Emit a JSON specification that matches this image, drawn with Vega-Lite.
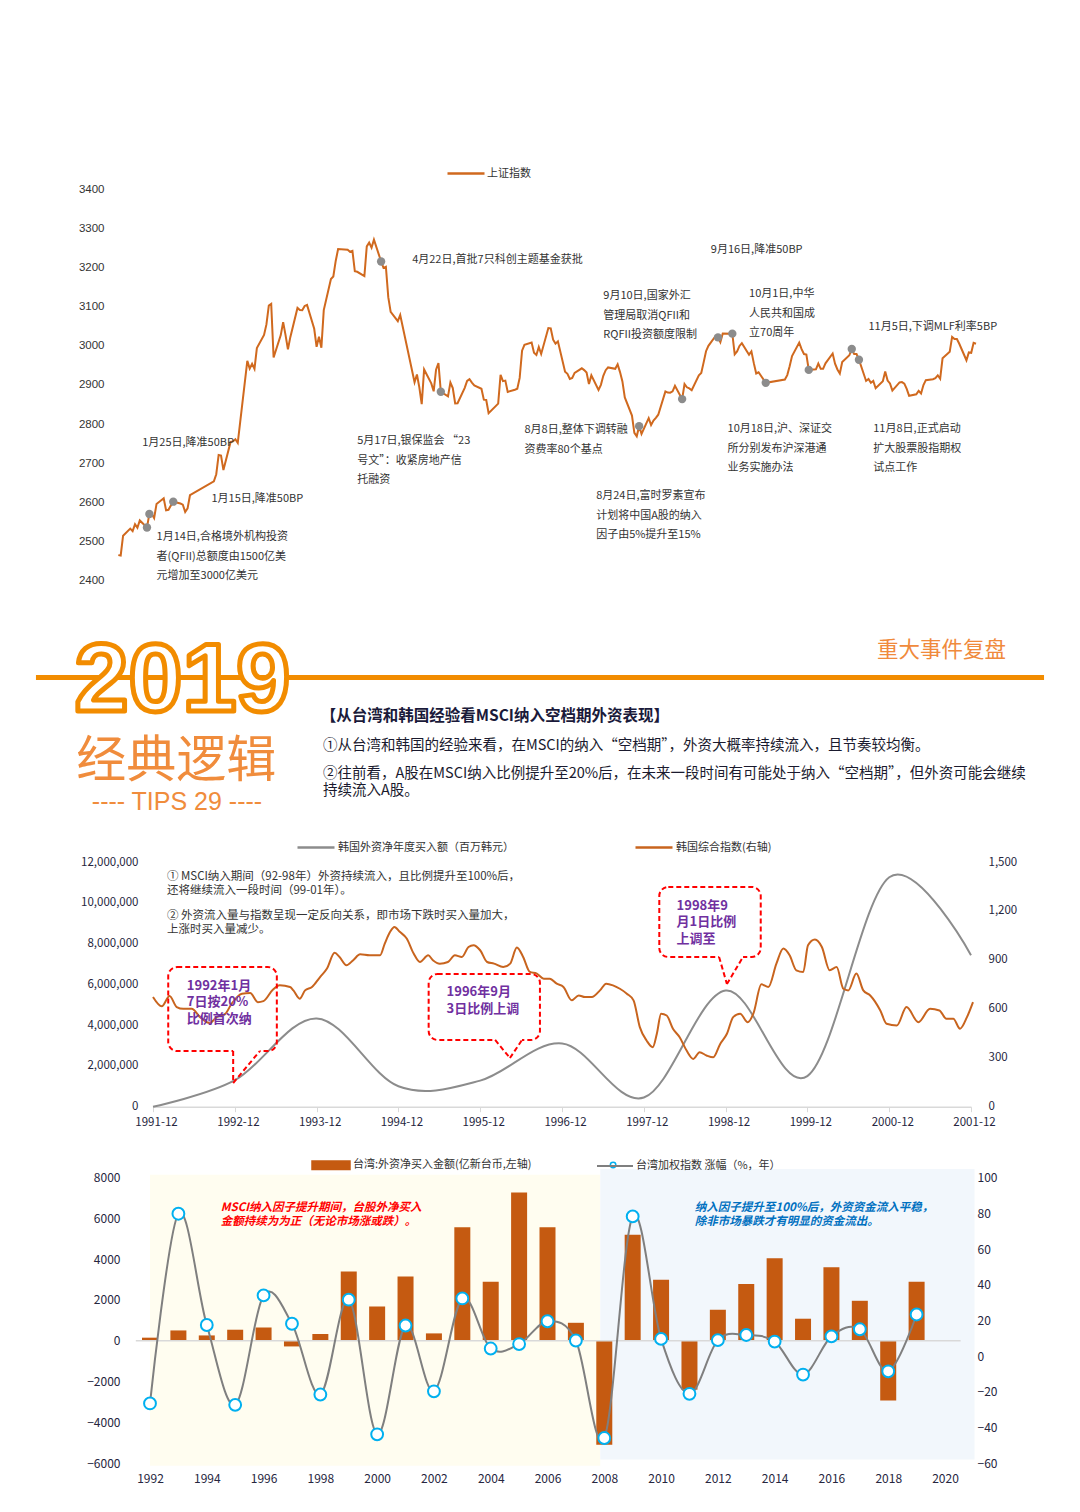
{
  "$schema": "https://vega.github.io/schema/vega-lite/v6.json",
  "width": 1080,
  "height": 1512,
  "padding": 0,
  "autosize": {"type": "none"},
  "background": "#ffffff",
  "config": {
    "view": {"stroke": null},
    "font": "Noto Sans CJK SC",
    "axis": {"grid": false, "domain": false, "ticks": false, "labelFont": "Noto Sans CJK SC", "labelColor": "#262640", "labelFontSize": 11.5, "labelFlush": false, "labelOverlap": false},
    "legend": {"labelFont": "Noto Sans CJK SC", "labelFontSize": 11, "labelColor": "#333333", "padding": 0, "labelLimit": 600, "labelOffset": 2},
    "text": {"font": "Noto Sans CJK SC"}
  },
  "datasets": {
    "sse": [
      {"date":"2019-01-02","close":2465.29},{"date":"2019-01-03","close":2464.36},{"date":"2019-01-04","close":2514.87},{"date":"2019-01-07","close":2533.09},{"date":"2019-01-08","close":2526.46},{"date":"2019-01-09","close":2544.34},{"date":"2019-01-10","close":2535.10},{"date":"2019-01-11","close":2553.83},{"date":"2019-01-14","close":2535.77},{"date":"2019-01-15","close":2570.42},{"date":"2019-01-16","close":2570.34},{"date":"2019-01-17","close":2559.64},{"date":"2019-01-18","close":2596.01},{"date":"2019-01-21","close":2610.51},{"date":"2019-01-22","close":2579.70},{"date":"2019-01-23","close":2581.00},{"date":"2019-01-24","close":2591.69},{"date":"2019-01-25","close":2601.72},{"date":"2019-01-28","close":2596.98},{"date":"2019-01-29","close":2594.25},{"date":"2019-01-30","close":2575.58},{"date":"2019-01-31","close":2584.57},
      {"date":"2019-02-01","close":2618.23},{"date":"2019-02-11","close":2653.90},{"date":"2019-02-12","close":2671.89},{"date":"2019-02-13","close":2721.07},{"date":"2019-02-14","close":2719.70},{"date":"2019-02-15","close":2682.39},{"date":"2019-02-18","close":2754.36},{"date":"2019-02-19","close":2755.65},{"date":"2019-02-20","close":2761.22},{"date":"2019-02-21","close":2751.80},{"date":"2019-02-22","close":2804.23},{"date":"2019-02-25","close":2961.28},{"date":"2019-02-26","close":2941.52},{"date":"2019-02-27","close":2953.82},{"date":"2019-02-28","close":2940.95},
      {"date":"2019-03-01","close":2994.01},{"date":"2019-03-04","close":3027.58},{"date":"2019-03-05","close":3054.25},{"date":"2019-03-06","close":3102.10},{"date":"2019-03-07","close":3106.42},{"date":"2019-03-08","close":2969.86},{"date":"2019-03-11","close":3026.99},{"date":"2019-03-12","close":3060.31},{"date":"2019-03-13","close":3026.95},{"date":"2019-03-14","close":2990.69},{"date":"2019-03-15","close":3021.75},{"date":"2019-03-18","close":3096.42},{"date":"2019-03-19","close":3090.98},{"date":"2019-03-20","close":3090.64},{"date":"2019-03-21","close":3101.46},{"date":"2019-03-22","close":3104.15},{"date":"2019-03-25","close":3043.03},{"date":"2019-03-26","close":2997.10},{"date":"2019-03-27","close":3022.72},{"date":"2019-03-28","close":2994.94},{"date":"2019-03-29","close":3090.76},
      {"date":"2019-04-01","close":3170.36},{"date":"2019-04-02","close":3176.82},{"date":"2019-04-03","close":3216.30},{"date":"2019-04-04","close":3246.57},{"date":"2019-04-08","close":3244.81},{"date":"2019-04-09","close":3239.66},{"date":"2019-04-10","close":3241.93},{"date":"2019-04-11","close":3189.96},{"date":"2019-04-12","close":3188.63},{"date":"2019-04-15","close":3177.79},{"date":"2019-04-16","close":3253.60},{"date":"2019-04-17","close":3263.12},{"date":"2019-04-18","close":3250.20},{"date":"2019-04-19","close":3270.80},{"date":"2019-04-22","close":3215.04},{"date":"2019-04-23","close":3198.59},{"date":"2019-04-24","close":3201.61},{"date":"2019-04-25","close":3123.83},{"date":"2019-04-26","close":3086.40},{"date":"2019-04-29","close":3062.50},{"date":"2019-04-30","close":3078.34},
      {"date":"2019-05-06","close":2906.46},{"date":"2019-05-07","close":2926.39},{"date":"2019-05-08","close":2893.76},{"date":"2019-05-09","close":2850.95},{"date":"2019-05-10","close":2939.21},{"date":"2019-05-13","close":2903.71},{"date":"2019-05-14","close":2883.61},{"date":"2019-05-15","close":2938.68},{"date":"2019-05-16","close":2955.71},{"date":"2019-05-17","close":2882.30},{"date":"2019-05-20","close":2870.60},{"date":"2019-05-21","close":2905.97},{"date":"2019-05-22","close":2891.70},{"date":"2019-05-23","close":2852.52},{"date":"2019-05-24","close":2852.99},{"date":"2019-05-27","close":2892.38},{"date":"2019-05-28","close":2909.91},{"date":"2019-05-29","close":2914.70},{"date":"2019-05-30","close":2905.81},{"date":"2019-05-31","close":2898.70},
      {"date":"2019-06-03","close":2890.08},{"date":"2019-06-04","close":2862.28},{"date":"2019-06-05","close":2861.42},{"date":"2019-06-06","close":2827.80},{"date":"2019-06-10","close":2852.13},{"date":"2019-06-11","close":2925.72},{"date":"2019-06-12","close":2909.38},{"date":"2019-06-13","close":2910.74},{"date":"2019-06-14","close":2881.97},{"date":"2019-06-17","close":2887.62},{"date":"2019-06-18","close":2890.16},{"date":"2019-06-19","close":2917.80},{"date":"2019-06-20","close":2987.12},{"date":"2019-06-21","close":3001.98},{"date":"2019-06-24","close":3008.15},{"date":"2019-06-25","close":2982.07},{"date":"2019-06-26","close":2976.28},{"date":"2019-06-27","close":2996.79},{"date":"2019-06-28","close":2978.88},
      {"date":"2019-07-01","close":3044.90},{"date":"2019-07-02","close":3043.94},{"date":"2019-07-03","close":3015.26},{"date":"2019-07-04","close":3005.25},{"date":"2019-07-05","close":3011.06},{"date":"2019-07-08","close":2933.36},{"date":"2019-07-09","close":2928.23},{"date":"2019-07-10","close":2915.30},{"date":"2019-07-11","close":2917.76},{"date":"2019-07-12","close":2930.55},{"date":"2019-07-15","close":2942.19},{"date":"2019-07-16","close":2937.62},{"date":"2019-07-17","close":2931.69},{"date":"2019-07-18","close":2901.95},{"date":"2019-07-19","close":2924.20},{"date":"2019-07-22","close":2886.97},{"date":"2019-07-23","close":2899.94},{"date":"2019-07-24","close":2923.28},{"date":"2019-07-25","close":2937.36},{"date":"2019-07-26","close":2944.54},{"date":"2019-07-29","close":2941.01},{"date":"2019-07-30","close":2952.34},{"date":"2019-07-31","close":2932.51},
      {"date":"2019-08-01","close":2908.77},{"date":"2019-08-02","close":2867.84},{"date":"2019-08-05","close":2821.50},{"date":"2019-08-06","close":2777.56},{"date":"2019-08-07","close":2768.68},{"date":"2019-08-08","close":2794.55},{"date":"2019-08-09","close":2774.75},{"date":"2019-08-12","close":2814.99},{"date":"2019-08-13","close":2797.26},{"date":"2019-08-14","close":2808.91},{"date":"2019-08-15","close":2815.80},{"date":"2019-08-16","close":2823.82},{"date":"2019-08-19","close":2883.10},{"date":"2019-08-20","close":2880.33},{"date":"2019-08-21","close":2880.00},{"date":"2019-08-22","close":2883.44},{"date":"2019-08-23","close":2897.43},{"date":"2019-08-26","close":2863.57},{"date":"2019-08-27","close":2902.19},{"date":"2019-08-28","close":2893.76},{"date":"2019-08-29","close":2890.92},{"date":"2019-08-30","close":2886.24},
      {"date":"2019-09-02","close":2924.11},{"date":"2019-09-03","close":2930.15},{"date":"2019-09-04","close":2957.41},{"date":"2019-09-05","close":2985.86},{"date":"2019-09-06","close":2999.60},{"date":"2019-09-09","close":3024.74},{"date":"2019-09-10","close":3021.20},{"date":"2019-09-11","close":3008.81},{"date":"2019-09-12","close":3031.24},{"date":"2019-09-16","close":3030.75},{"date":"2019-09-17","close":2978.12},{"date":"2019-09-18","close":2985.34},{"date":"2019-09-19","close":2999.28},{"date":"2019-09-20","close":3006.45},{"date":"2019-09-23","close":2977.08},{"date":"2019-09-24","close":2985.34},{"date":"2019-09-25","close":2955.43},{"date":"2019-09-26","close":2929.09},{"date":"2019-09-27","close":2932.17},{"date":"2019-09-30","close":2905.19},
      {"date":"2019-10-08","close":2913.57},{"date":"2019-10-09","close":2924.86},{"date":"2019-10-10","close":2947.71},{"date":"2019-10-11","close":2973.66},{"date":"2019-10-14","close":3007.88},{"date":"2019-10-15","close":2991.05},{"date":"2019-10-16","close":2978.71},{"date":"2019-10-17","close":2977.33},{"date":"2019-10-18","close":2938.14},{"date":"2019-10-21","close":2939.62},{"date":"2019-10-22","close":2954.38},{"date":"2019-10-23","close":2940.92},{"date":"2019-10-24","close":2940.92},{"date":"2019-10-25","close":2954.93},{"date":"2019-10-28","close":2980.05},{"date":"2019-10-29","close":2954.18},{"date":"2019-10-30","close":2939.32},{"date":"2019-10-31","close":2929.06},
      {"date":"2019-11-01","close":2958.20},{"date":"2019-11-04","close":2975.49},{"date":"2019-11-05","close":2991.56},{"date":"2019-11-06","close":2978.60},{"date":"2019-11-07","close":2978.71},{"date":"2019-11-08","close":2964.18},{"date":"2019-11-11","close":2909.97},{"date":"2019-11-12","close":2914.82},{"date":"2019-11-13","close":2905.24},{"date":"2019-11-14","close":2909.87},{"date":"2019-11-15","close":2891.34},{"date":"2019-11-18","close":2909.20},{"date":"2019-11-19","close":2933.99},{"date":"2019-11-20","close":2911.05},{"date":"2019-11-21","close":2903.64},{"date":"2019-11-22","close":2885.29},{"date":"2019-11-25","close":2906.17},{"date":"2019-11-26","close":2907.06},{"date":"2019-11-27","close":2903.19},{"date":"2019-11-28","close":2889.69},{"date":"2019-11-29","close":2871.98},
      {"date":"2019-12-02","close":2875.81},{"date":"2019-12-03","close":2884.70},{"date":"2019-12-04","close":2878.12},{"date":"2019-12-05","close":2899.47},{"date":"2019-12-06","close":2912.01},{"date":"2019-12-09","close":2914.48},{"date":"2019-12-10","close":2917.32},{"date":"2019-12-11","close":2924.42},{"date":"2019-12-12","close":2915.70},{"date":"2019-12-13","close":2967.68},{"date":"2019-12-16","close":2984.39},{"date":"2019-12-17","close":3022.42},{"date":"2019-12-18","close":3017.04},{"date":"2019-12-19","close":3017.07},{"date":"2019-12-20","close":3004.94},{"date":"2019-12-23","close":2962.75},{"date":"2019-12-24","close":2982.68},{"date":"2019-12-25","close":2981.88},{"date":"2019-12-26","close":3007.35},{"date":"2019-12-27","close":3005.04}
    ],
    "sseEvents": [
      {"date":"2019-01-14","close":2535.77,"label":["1月14日,合格境外机构投资","者(QFII)总额度由1500亿美","元增加至3000亿美元"],"labelDate":"2019-01-18","labelValue":2526},
      {"date":"2019-01-15","close":2570.42,"label":["1月15日,降准50BP"],"labelDate":"2019-02-10","labelValue":2623},
      {"date":"2019-01-25","close":2601.72,"label":["1月25日,降准50BP"],"labelDate":"2019-01-12","labelValue":2766},
      {"date":"2019-04-22","close":3215.04,"label":["4月22日,首批7只科创主题基金获批"],"labelDate":"2019-05-05","labelValue":3233},
      {"date":"2019-05-17","close":2882.30,"label":["5月17日,银保监会 “23","号文”：收紧房地产信","托融资"],"labelDate":"2019-04-12","labelValue":2771},
      {"date":"2019-08-08","close":2794.55,"label":["8月8日,整体下调转融","资费率80个基点"],"labelDate":"2019-06-21","labelValue":2799},
      {"date":"2019-08-26","close":2863.57,"label":["8月24日,富时罗素宣布","计划将中国A股的纳入","因子由5%提升至15%"],"labelDate":"2019-07-21","labelValue":2631},
      {"date":"2019-09-10","close":3021.20,"label":["9月10日,国家外汇","管理局取消QFII和","RQFII投资额度限制"],"labelDate":"2019-07-24","labelValue":3141},
      {"date":"2019-09-16","close":3030.75,"label":["9月16日,降准50BP"],"labelDate":"2019-09-07","labelValue":3259},
      {"date":"2019-09-30","close":2905.19,"label":["10月1日,中华","人民共和国成","立70周年"],"labelDate":"2019-09-23","labelValue":3146},
      {"date":"2019-10-18","close":2938.14,"label":["10月18日,沪、深证交","所分别发布沪深港通","业务实施办法"],"labelDate":"2019-09-14","labelValue":2802},
      {"date":"2019-11-05","close":2991.56,"label":["11月5日,下调MLF利率5BP"],"labelDate":"2019-11-12","labelValue":3062},
      {"date":"2019-11-08","close":2964.18,"label":["11月8日,正式启动","扩大股票股指期权","试点工作"],"labelDate":"2019-11-14","labelValue":2802}
    ],
    "krFlow": [
      {"date":"1991-12-01","flow":0},{"date":"1992-12-01","flow":1300000},{"date":"1993-12-01","flow":4330000},{"date":"1994-12-01","flow":1000000},{"date":"1995-12-01","flow":1280000},{"date":"1996-12-01","flow":3100000},{"date":"1997-12-01","flow":450000},{"date":"1998-12-01","flow":5700000},{"date":"1999-12-01","flow":1500000},{"date":"2000-12-01","flow":11250000},{"date":"2001-12-01","flow":7430000}
    ],
    "krIndex": [
      {"date":"1991-12-01","kospi":672},{"date":"1992-01-09","kospi":615},{"date":"1992-02-13","kospi":678},{"date":"1992-03-16","kospi":611},{"date":"1992-04-14","kospi":600},{"date":"1992-05-22","kospi":600},{"date":"1992-06-28","kospi":549},{"date":"1992-08-10","kospi":512},{"date":"1992-09-10","kospi":549},{"date":"1992-10-19","kospi":570},{"date":"1992-11-16","kospi":631},
      {"date":"1993-01-01","kospi":693},{"date":"1993-02-07","kospi":697},{"date":"1993-03-13","kospi":641},{"date":"1993-04-07","kospi":647},{"date":"1993-05-19","kospi":717},{"date":"1993-06-19","kospi":744},{"date":"1993-08-04","kospi":734},{"date":"1993-08-19","kospi":713},{"date":"1993-09-16","kospi":662},{"date":"1993-10-10","kospi":713},{"date":"1993-11-10","kospi":734},{"date":"1993-12-16","kospi":795},
      {"date":"1994-01-16","kospi":847},{"date":"1994-02-19","kospi":943},{"date":"1994-03-13","kospi":918},{"date":"1994-04-13","kospi":867},{"date":"1994-05-13","kospi":898},{"date":"1994-06-13","kospi":934},{"date":"1994-07-25","kospi":928},{"date":"1994-09-10","kospi":928},{"date":"1994-10-01","kospi":1000},{"date":"1994-10-25","kospi":1072},{"date":"1994-11-13","kospi":1102},{"date":"1994-12-07","kospi":1072},
      {"date":"1995-01-07","kospi":1031},{"date":"1995-02-07","kospi":939},{"date":"1995-03-07","kospi":887},{"date":"1995-04-13","kospi":928},{"date":"1995-05-04","kospi":898},{"date":"1995-06-04","kospi":877},{"date":"1995-07-10","kospi":887},{"date":"1995-08-10","kospi":928},{"date":"1995-09-10","kospi":918},{"date":"1995-10-10","kospi":979},{"date":"1995-11-01","kospi":990},{"date":"1995-12-01","kospi":959},
      {"date":"1996-01-01","kospi":887},{"date":"1996-02-01","kospi":877},{"date":"1996-03-13","kospi":856},{"date":"1996-04-13","kospi":877},{"date":"1996-05-13","kospi":976},{"date":"1996-06-10","kospi":918},{"date":"1996-07-10","kospi":826},{"date":"1996-08-10","kospi":816},{"date":"1996-09-10","kospi":785},{"date":"1996-10-07","kospi":785},{"date":"1996-11-07","kospi":754},{"date":"1996-12-07","kospi":734},
      {"date":"1997-01-13","kospi":652},{"date":"1997-02-13","kospi":682},{"date":"1997-03-13","kospi":672},{"date":"1997-04-13","kospi":672},{"date":"1997-05-19","kospi":713},{"date":"1997-06-16","kospi":754},{"date":"1997-07-16","kospi":744},{"date":"1997-08-16","kospi":723},{"date":"1997-09-16","kospi":693},{"date":"1997-10-16","kospi":652},{"date":"1997-11-13","kospi":488},{"date":"1997-12-13","kospi":406},
      {"date":"1998-01-10","kospi":365},{"date":"1998-01-28","kospi":447},{"date":"1998-02-16","kospi":570},{"date":"1998-03-13","kospi":559},{"date":"1998-04-10","kospi":478},{"date":"1998-05-10","kospi":426},{"date":"1998-06-10","kospi":344},{"date":"1998-07-10","kospi":293},{"date":"1998-08-07","kospi":334},{"date":"1998-09-07","kospi":314},{"date":"1998-10-07","kospi":303},{"date":"1998-11-07","kospi":385},{"date":"1998-12-07","kospi":447},
      {"date":"1999-01-04","kospi":549},{"date":"1999-02-04","kospi":570},{"date":"1999-03-10","kospi":518},{"date":"1999-04-04","kospi":570},{"date":"1999-05-10","kospi":750},{"date":"1999-06-10","kospi":734},{"date":"1999-07-16","kospi":877},{"date":"1999-08-16","kospi":969},{"date":"1999-09-13","kospi":928},{"date":"1999-10-13","kospi":836},{"date":"1999-11-13","kospi":826},{"date":"1999-12-04","kospi":990},
      {"date":"2000-01-04","kospi":1025},{"date":"2000-02-04","kospi":979},{"date":"2000-03-10","kospi":836},{"date":"2000-04-10","kospi":856},{"date":"2000-05-10","kospi":723},{"date":"2000-06-01","kospi":713},{"date":"2000-07-07","kospi":816},{"date":"2000-08-07","kospi":713},{"date":"2000-09-07","kospi":682},{"date":"2000-10-22","kospi":590},{"date":"2000-11-19","kospi":508},
      {"date":"2001-01-04","kospi":498},{"date":"2001-02-16","kospi":611},{"date":"2001-04-10","kospi":518},{"date":"2001-06-01","kospi":600},{"date":"2001-07-13","kospi":590},{"date":"2001-08-13","kospi":539},{"date":"2001-09-13","kospi":539},{"date":"2001-10-13","kospi":478},{"date":"2001-11-13","kospi":549},{"date":"2001-12-10","kospi":641}
    ],
    "taiwan": [
      {"year":1992,"net":150,"change":-26.6},{"year":1993,"net":505,"change":79.8},{"year":1994,"net":260,"change":17.4},{"year":1995,"net":540,"change":-27.4},{"year":1996,"net":650,"change":34.0},{"year":1997,"net":-280,"change":18.1},{"year":1998,"net":330,"change":-21.6},{"year":1999,"net":3400,"change":31.6},{"year":2000,"net":1680,"change":-43.9},{"year":2001,"net":3150,"change":17.1},{"year":2002,"net":360,"change":-19.8},{"year":2003,"net":5570,"change":32.3},{"year":2004,"net":2900,"change":4.2},{"year":2005,"net":7270,"change":6.7},{"year":2006,"net":5570,"change":19.5},{"year":2007,"net":880,"change":8.7},{"year":2008,"net":-5100,"change":-46.0},{"year":2009,"net":5200,"change":78.3},{"year":2010,"net":2990,"change":9.6},{"year":2011,"net":-2400,"change":-21.2},{"year":2012,"net":1520,"change":8.9},{"year":2013,"net":2780,"change":11.8},{"year":2014,"net":4050,"change":8.1},{"year":2015,"net":1080,"change":-10.4},{"year":2016,"net":3610,"change":11.0},{"year":2017,"net":1960,"change":15.0},{"year":2018,"net":-2930,"change":-8.6},{"year":2019,"net":2890,"change":23.3}
    ]
  },
  "layer": [
    {
      "layer": [
        {
          "data": {"name": "sse"},
          "mark": {"type": "line", "strokeWidth": 2},
          "encoding": {
            "x": {"field": "date", "type": "temporal", "scale": {"type": "utc", "domain": [{"year": 2019, "month": 1, "date": 2, "utc": true}, {"year": 2019, "month": 12, "date": 27, "utc": true}], "range": [118.3, 976]}, "axis": null},
            "y": {"field": "close", "type": "quantitative", "scale": {"domain": [2400, 3400], "range": [580.7, 189], "nice": false, "zero": false}, "axis": {"orient": "left", "offset": -118, "labelPadding": 14, "values": [2400, 2500, 2600, 2700, 2800, 2900, 3000, 3100, 3200, 3300, 3400], "format": "d", "labelFont": "Liberation Sans", "labelFontSize": 11.5, "labelColor": "#333333", "title": null}},
            "color": {"datum": "上证指数", "type": "nominal", "scale": {"range": ["#D0691E"]}, "legend": {"orient": "none", "legendX": 446, "legendY": 153.5, "symbolType": "stroke", "symbolSize": 1369, "symbolStrokeWidth": 2.5, "labelOffset": 1, "title": null}}
          }
        },
        {
          "data": {"name": "sseEvents"},
          "mark": {"type": "circle", "size": 70, "color": "#8c8c8c", "opacity": 1},
          "encoding": {
            "x": {"field": "date", "type": "temporal"},
            "y": {"field": "close", "type": "quantitative"}
          }
        },
        {
          "data": {"name": "sseEvents"},
          "mark": {"type": "text", "align": "left", "baseline": "top", "fontSize": 11, "lineHeight": 19.5, "color": "#333333"},
          "encoding": {
            "x": {"field": "labelDate", "type": "temporal"},
            "y": {"field": "labelValue", "type": "quantitative"},
            "text": {"field": "label"}
          }
        }
      ]
    },
    {
      "data": {"values": [{}]},
      "layer": [
        {
          "mark": {"type": "rule", "color": "#F28C00", "strokeWidth": 5},
          "encoding": {
            "x": {"datum": 3.33, "type": "quantitative", "scale": {"domain": [0, 100], "range": [0, 1080], "nice": false, "zero": false}, "axis": null},
            "x2": {"datum": 96.67},
            "y": {"datum": 28.75, "type": "quantitative", "scale": {"domain": [0, 100], "range": [620, 820], "nice": false, "zero": false}, "axis": null}
          }
        },
        {
          "mark": {"type": "text", "text": "2019", "align": "left", "baseline": "alphabetic", "font": "Liberation Sans", "fontWeight": "bold", "fontSize": 97, "fill": "#ffffff", "stroke": "#F28C00", "strokeWidth": 5, "strokeJoin": "round"},
          "encoding": {"x": {"datum": 6.9, "type": "quantitative", "axis": null}, "y": {"datum": 45.5, "type": "quantitative", "axis": null}}
        },
        {
          "mark": {"type": "text", "text": "重大事件复盘", "align": "left", "baseline": "middle", "fontSize": 21.5, "color": "#F08A3C"},
          "encoding": {"x": {"datum": 81.2, "type": "quantitative", "axis": null}, "y": {"datum": 15.35, "type": "quantitative", "axis": null}}
        },
        {
          "mark": {"type": "text", "text": "经典逻辑", "align": "left", "baseline": "middle", "fontSize": 50, "color": "#F08C3C"},
          "encoding": {"x": {"datum": 7.05, "type": "quantitative", "axis": null}, "y": {"datum": 71, "type": "quantitative", "axis": null}}
        },
        {
          "mark": {"type": "text", "text": "---- TIPS 29 ----", "align": "left", "baseline": "middle", "font": "Liberation Sans", "fontSize": 25, "color": "#F08C3C"},
          "encoding": {"x": {"datum": 8.5, "type": "quantitative", "axis": null}, "y": {"datum": 91.2, "type": "quantitative", "axis": null}}
        },
        {
          "mark": {"type": "text", "text": "【从台湾和韩国经验看MSCI纳入空档期外资表现】", "align": "left", "baseline": "middle", "fontSize": 15.5, "fontWeight": "bold", "color": "#1a1a3a"},
          "encoding": {"x": {"datum": 29.7, "type": "quantitative", "axis": null}, "y": {"datum": 48.1, "type": "quantitative", "axis": null}}
        },
        {
          "mark": {"type": "text", "text": "①从台湾和韩国的经验来看，在MSCI的纳入“空档期”，外资大概率持续流入，且节奏较均衡。", "align": "left", "baseline": "middle", "fontSize": 14.5, "color": "#1a1a2e"},
          "encoding": {"x": {"datum": 29.9, "type": "quantitative", "axis": null}, "y": {"datum": 63.05, "type": "quantitative", "axis": null}}
        },
        {
          "mark": {"type": "text", "text": ["②往前看，A股在MSCI纳入比例提升至20%后，在未来一段时间有可能处于纳入“空档期”，但外资可能会继续", "持续流入A股。"], "align": "left", "baseline": "top", "fontSize": 14.5, "lineHeight": 17, "color": "#1a1a2e"},
          "encoding": {"x": {"datum": 29.9, "type": "quantitative", "axis": null}, "y": {"datum": 73.6, "type": "quantitative", "axis": null}}
        }
      ]
    },
    {
      "layer": [
        {
          "data": {"name": "krFlow"},
          "mark": {"type": "line", "interpolate": "cardinal", "tension": 0, "strokeWidth": 2},
          "encoding": {
            "x": {"field": "date", "type": "temporal", "scale": {"type": "utc", "domain": [{"year": 1991, "month": 12, "date": 1, "utc": true}, {"year": 2001, "month": 12, "date": 1, "utc": true}], "range": [153, 971]},
                  "axis": {"orient": "bottom", "offset": -405.3, "values": [{"year": 1991, "month": 12, "date": 1, "utc": true}, {"year": 1992, "month": 12, "date": 1, "utc": true}, {"year": 1993, "month": 12, "date": 1, "utc": true}, {"year": 1994, "month": 12, "date": 1, "utc": true}, {"year": 1995, "month": 12, "date": 1, "utc": true}, {"year": 1996, "month": 12, "date": 1, "utc": true}, {"year": 1997, "month": 12, "date": 1, "utc": true}, {"year": 1998, "month": 12, "date": 1, "utc": true}, {"year": 1999, "month": 12, "date": 1, "utc": true}, {"year": 2000, "month": 12, "date": 1, "utc": true}, {"year": 2001, "month": 12, "date": 1, "utc": true}],
                           "format": "%Y-%m", "domain": true, "domainColor": "#d9d9d9", "domainWidth": 1.5, "ticks": true, "tickColor": "#d9d9d9", "tickSize": 5, "labelPadding": 5, "labelOffset": 3, "labelFontSize": 11.5, "title": null}},
            "y": {"field": "flow", "type": "quantitative", "scale": {"domain": [0, 12000000], "range": [1106.7, 862], "nice": false, "zero": false}, "axis": {"orient": "left", "offset": -153, "labelPadding": 15, "values": [0, 2000000, 4000000, 6000000, 8000000, 10000000, 12000000], "format": ",.0f", "title": null}},
            "color": {"datum": "韩国外资净年度买入额（百万韩元）", "type": "nominal", "scale": {"range": ["#8c8c8c"]}, "legend": {"orient": "none", "legendX": 296, "legendY": 827.5, "symbolType": "stroke", "symbolSize": 1369, "symbolStrokeWidth": 2.5, "title": null}}
          }
        },
        {
          "layer": [
            {
              "data": {"name": "krIndex"},
              "mark": {"type": "line", "interpolate": "monotone", "strokeWidth": 2},
              "encoding": {
                "x": {"field": "date", "type": "temporal"},
                "y": {"field": "kospi", "type": "quantitative", "scale": {"domain": [0, 1500], "range": [1106.7, 862], "nice": false, "zero": false}, "axis": {"orient": "right", "offset": -105, "labelPadding": 13, "values": [0, 300, 600, 900, 1200, 1500], "format": ",.0f", "title": null}},
                "color": {"datum": "韩国综合指数(右轴)", "type": "nominal", "scale": {"range": ["#C8641E"]}, "legend": {"orient": "none", "legendX": 634, "legendY": 827.5, "symbolType": "stroke", "symbolSize": 1369, "symbolStrokeWidth": 2.5, "title": null}}
              }
            },
            {
              "data": {"values": [{}]},
              "mark": {"type": "text", "text": ["① MSCI纳入期间（92-98年）外资持续流入，且比例提升至100%后，", "还将继续流入一段时间（99-01年）。"], "align": "left", "baseline": "top", "fontSize": 11.5, "lineHeight": 13.5, "color": "#333333"},
              "encoding": {"x": {"datum": {"year": 1992, "month": 2, "date": 1, "utc": true}, "type": "temporal"}, "y": {"datum": 1443, "type": "quantitative"}}
            },
            {
              "data": {"values": [{}]},
              "mark": {"type": "text", "text": ["② 外资流入量与指数呈现一定反向关系，即市场下跌时买入量加大，", "上涨时买入量减少。"], "align": "left", "baseline": "top", "fontSize": 11.5, "lineHeight": 13.5, "color": "#333333"},
              "encoding": {"x": {"datum": {"year": 1992, "month": 2, "date": 1, "utc": true}, "type": "temporal"}, "y": {"datum": 1203, "type": "quantitative"}}
            },
            {
              "data": {"values": [{}]},
              "mark": {"type": "rect", "color": "#FF0000", "fillOpacity": 0, "stroke": "#FF0000", "strokeWidth": 2, "strokeDash": [5, 3], "cornerRadius": 9},
              "encoding": {"x": {"datum": {"year": 1992, "month": 2, "date": 7, "utc": true}, "type": "temporal"}, "x2": {"datum": {"year": 1993, "month": 6, "date": 6, "utc": true}}, "y": {"datum": 856, "type": "quantitative"}, "y2": {"datum": 341}}
            },
            {
              "data": {"values": [{}]},
              "mark": {"type": "rule", "color": "#ffffff", "strokeWidth": 4},
              "encoding": {"x": {"datum": {"year": 1992, "month": 11, "date": 23, "utc": true}, "type": "temporal"}, "x2": {"datum": {"year": 1993, "month": 3, "date": 22, "utc": true}}, "y": {"datum": 341, "type": "quantitative"}}
            },
            {
              "data": {"values": [{}]},
              "mark": {"type": "rule", "color": "#FF0000", "strokeWidth": 2, "strokeDash": [5, 3]},
              "encoding": {"x": {"datum": {"year": 1992, "month": 11, "date": 23, "utc": true}, "type": "temporal"}, "x2": {"datum": {"year": 1992, "month": 11, "date": 23, "utc": true}}, "y": {"datum": 341, "type": "quantitative"}, "y2": {"datum": 145}}
            },
            {
              "data": {"values": [{}]},
              "mark": {"type": "rule", "color": "#FF0000", "strokeWidth": 2, "strokeDash": [5, 3]},
              "encoding": {"x": {"datum": {"year": 1992, "month": 11, "date": 23, "utc": true}, "type": "temporal"}, "x2": {"datum": {"year": 1993, "month": 3, "date": 22, "utc": true}}, "y": {"datum": 145, "type": "quantitative"}, "y2": {"datum": 341}}
            },
            {
              "data": {"values": [{}]},
              "mark": {"type": "text", "text": ["1992年1月", "7日按20%", "比例首次纳"], "align": "left", "baseline": "top", "fontSize": 13, "fontWeight": "bold", "lineHeight": 16.5, "color": "#7030A0"},
              "encoding": {"x": {"datum": {"year": 1992, "month": 4, "date": 30, "utc": true}, "type": "temporal"}, "y": {"datum": 778, "type": "quantitative"}}
            },
            {
              "data": {"values": [{}]},
              "mark": {"type": "rect", "color": "#FF0000", "fillOpacity": 0, "stroke": "#FF0000", "strokeWidth": 2, "strokeDash": [5, 3], "cornerRadius": 9},
              "encoding": {"x": {"datum": {"year": 1995, "month": 4, "date": 15, "utc": true}, "type": "temporal"}, "x2": {"datum": {"year": 1996, "month": 8, "date": 24, "utc": true}}, "y": {"datum": 813.5, "type": "quantitative"}, "y2": {"datum": 409}}
            },
            {
              "data": {"values": [{}]},
              "mark": {"type": "rule", "color": "#ffffff", "strokeWidth": 4},
              "encoding": {"x": {"datum": {"year": 1996, "month": 2, "date": 6, "utc": true}, "type": "temporal"}, "x2": {"datum": {"year": 1996, "month": 6, "date": 5, "utc": true}}, "y": {"datum": 409, "type": "quantitative"}}
            },
            {
              "data": {"values": [{}]},
              "mark": {"type": "rule", "color": "#FF0000", "strokeWidth": 2, "strokeDash": [5, 3]},
              "encoding": {"x": {"datum": {"year": 1996, "month": 2, "date": 6, "utc": true}, "type": "temporal"}, "x2": {"datum": {"year": 1996, "month": 4, "date": 12, "utc": true}}, "y": {"datum": 409, "type": "quantitative"}, "y2": {"datum": 298.5}}
            },
            {
              "data": {"values": [{}]},
              "mark": {"type": "rule", "color": "#FF0000", "strokeWidth": 2, "strokeDash": [5, 3]},
              "encoding": {"x": {"datum": {"year": 1996, "month": 4, "date": 12, "utc": true}, "type": "temporal"}, "x2": {"datum": {"year": 1996, "month": 6, "date": 5, "utc": true}}, "y": {"datum": 298.5, "type": "quantitative"}, "y2": {"datum": 409}}
            },
            {
              "data": {"values": [{}]},
              "mark": {"type": "text", "text": ["1996年9月", "3日比例上调"], "align": "left", "baseline": "top", "fontSize": 13, "fontWeight": "bold", "lineHeight": 16.5, "color": "#7030A0"},
              "encoding": {"x": {"datum": {"year": 1995, "month": 7, "date": 4, "utc": true}, "type": "temporal"}, "y": {"datum": 737, "type": "quantitative"}}
            },
            {
              "data": {"values": [{}]},
              "mark": {"type": "rect", "color": "#FF0000", "fillOpacity": 0, "stroke": "#FF0000", "strokeWidth": 2, "strokeDash": [5, 3], "cornerRadius": 9},
              "encoding": {"x": {"datum": {"year": 1998, "month": 2, "date": 8, "utc": true}, "type": "temporal"}, "x2": {"datum": {"year": 1999, "month": 5, "date": 7, "utc": true}}, "y": {"datum": 1347, "type": "quantitative"}, "y2": {"datum": 918}}
            },
            {
              "data": {"values": [{}]},
              "mark": {"type": "rule", "color": "#ffffff", "strokeWidth": 4},
              "encoding": {"x": {"datum": {"year": 1998, "month": 11, "date": 2, "utc": true}, "type": "temporal"}, "x2": {"datum": {"year": 1999, "month": 2, "date": 17, "utc": true}}, "y": {"datum": 918, "type": "quantitative"}}
            },
            {
              "data": {"values": [{}]},
              "mark": {"type": "rule", "color": "#FF0000", "strokeWidth": 2, "strokeDash": [5, 3]},
              "encoding": {"x": {"datum": {"year": 1998, "month": 11, "date": 2, "utc": true}, "type": "temporal"}, "x2": {"datum": {"year": 1998, "month": 12, "date": 7, "utc": true}}, "y": {"datum": 918, "type": "quantitative"}, "y2": {"datum": 752}}
            },
            {
              "data": {"values": [{}]},
              "mark": {"type": "rule", "color": "#FF0000", "strokeWidth": 2, "strokeDash": [5, 3]},
              "encoding": {"x": {"datum": {"year": 1998, "month": 12, "date": 7, "utc": true}, "type": "temporal"}, "x2": {"datum": {"year": 1999, "month": 2, "date": 17, "utc": true}}, "y": {"datum": 752, "type": "quantitative"}, "y2": {"datum": 918}}
            },
            {
              "data": {"values": [{}]},
              "mark": {"type": "text", "text": ["1998年9", "月1日比例", "上调至"], "align": "left", "baseline": "top", "fontSize": 13, "fontWeight": "bold", "lineHeight": 16.5, "color": "#7030A0"},
              "encoding": {"x": {"datum": {"year": 1998, "month": 4, "date": 26, "utc": true}, "type": "temporal"}, "y": {"datum": 1269, "type": "quantitative"}}
            }
          ]
        }
      ],
      "resolve": {"scale": {"y": "independent", "color": "independent"}, "legend": {"color": "independent"}}
    },
    {
      "layer": [
        {
          "layer": [
            {
              "data": {"values": [{}]},
              "mark": {"type": "rect", "color": "#FFFDF0"},
              "encoding": {"x": {"datum": 1992, "type": "quantitative"}, "x2": {"datum": 2007.86}, "y": {"datum": 8140, "type": "quantitative"}, "y2": {"datum": -6130}}
            },
            {
              "data": {"values": [{}]},
              "mark": {"type": "rect", "color": "#F2F7FC"},
              "encoding": {"x": {"datum": 2007.86, "type": "quantitative"}, "x2": {"datum": 2021.04}, "y": {"datum": 8430, "type": "quantitative"}, "y2": {"datum": -5830}}
            },
            {
              "data": {"name": "taiwan"},
              "mark": {"type": "bar", "size": 16, "orient": "vertical"},
              "encoding": {
                "x": {"field": "year", "type": "quantitative", "scale": {"domain": [1992, 2020], "range": [145, 950], "nice": false, "zero": false},
                      "axis": {"orient": "bottom", "offset": -46, "values": [1992, 1994, 1996, 1998, 2000, 2002, 2004, 2006, 2008, 2010, 2012, 2014, 2016, 2018, 2020], "format": "d", "labelPadding": 7, "labelFontSize": 12, "title": null}},
                "y": {"field": "net", "type": "quantitative", "scale": {"domain": [-6000, 8000], "range": [1463, 1177.7], "nice": false, "zero": false},
                      "axis": {"orient": "left", "offset": -130, "labelPadding": 10, "values": [-6000, -4000, -2000, 0, 2000, 4000, 6000, 8000], "format": "d", "labelFontSize": 12, "title": null}},
                "color": {"datum": "台湾:外资净买入金额(亿新台币,左轴)", "type": "nominal", "scale": {"range": ["#C55A11"]}, "legend": {"orient": "none", "legendX": 311, "legendY": 1145.3, "symbolType": "M-1,-0.25L1,-0.25L1,0.25L-1,0.25Z", "symbolSize": 1560, "symbolStrokeWidth": 0, "title": null}}
              }
            },
            {
              "data": {"values": [{}]},
              "mark": {"type": "rule", "color": "#d9d9d9", "strokeWidth": 1.5},
              "encoding": {"x": {"datum": 1991.5, "type": "quantitative"}, "x2": {"datum": 2020.55}, "y": {"datum": 0, "type": "quantitative"}}
            },
            {
              "data": {"values": [{}]},
              "mark": {"type": "text", "text": ["MSCI纳入因子提升期间，台股外净买入", "金额持续为为正（无论市场涨或跌）。"], "align": "left", "baseline": "top", "fontSize": 11.5, "fontWeight": "bold", "fontStyle": "italic", "lineHeight": 13.7, "color": "#FF0000"},
              "encoding": {"x": {"datum": 1994.49, "type": "quantitative"}, "y": {"datum": 6784, "type": "quantitative"}}
            },
            {
              "data": {"values": [{}]},
              "mark": {"type": "text", "text": ["纳入因子提升至100%后，外资资金流入平稳，", "除非市场暴跌才有明显的资金流出。"], "align": "left", "baseline": "top", "fontSize": 11.5, "fontWeight": "bold", "fontStyle": "italic", "lineHeight": 13.7, "color": "#0070C0"},
              "encoding": {"x": {"datum": 2011.19, "type": "quantitative"}, "y": {"datum": 6784, "type": "quantitative"}}
            }
          ]
        },
        {
          "layer": [
            {
              "data": {"name": "taiwan"},
              "mark": {"type": "line", "interpolate": "cardinal", "tension": 0, "strokeWidth": 2},
              "encoding": {
                "x": {"field": "year", "type": "quantitative"},
                "y": {"field": "change", "type": "quantitative", "scale": {"domain": [-60, 100], "range": [1463, 1177.7], "nice": false, "zero": false},
                      "axis": {"orient": "right", "offset": -115, "labelPadding": 12, "values": [-60, -40, -20, 0, 20, 40, 60, 80, 100], "format": "d", "labelFontSize": 12, "title": null}},
                "color": {"datum": "台湾加权指数 涨幅（%，年）", "type": "nominal", "scale": {"range": ["#7f7f7f"]}, "legend": {"orient": "none", "legendX": 596, "legendY": 1147, "symbolType": "stroke", "symbolSize": 1296, "symbolStrokeWidth": 2, "title": null}}
              }
            },
            {
              "data": {"name": "taiwan"},
              "mark": {"type": "point", "shape": "circle", "size": 140, "filled": true, "fill": "#ffffff", "stroke": "#00B0F0", "strokeWidth": 2, "opacity": 1},
              "encoding": {
                "x": {"field": "year", "type": "quantitative"},
                "y": {"field": "change", "type": "quantitative"}
              }
            },
            {
              "data": {"values": [{}]},
              "mark": {"type": "point", "shape": "circle", "size": 30, "filled": true, "fill": "#ffffff", "stroke": "#00B0F0", "strokeWidth": 1.5, "opacity": 1},
              "encoding": {"x": {"datum": 2008.31, "type": "quantitative"}, "y": {"datum": 107.1, "type": "quantitative"}}
            }
          ]
        }
      ],
      "resolve": {"scale": {"y": "independent", "color": "independent"}, "legend": {"color": "independent"}}
    }
  ],
  "resolve": {"scale": {"x": "independent", "y": "independent", "color": "independent"}, "axis": {"x": "independent", "y": "independent"}, "legend": {"color": "independent"}}
}
